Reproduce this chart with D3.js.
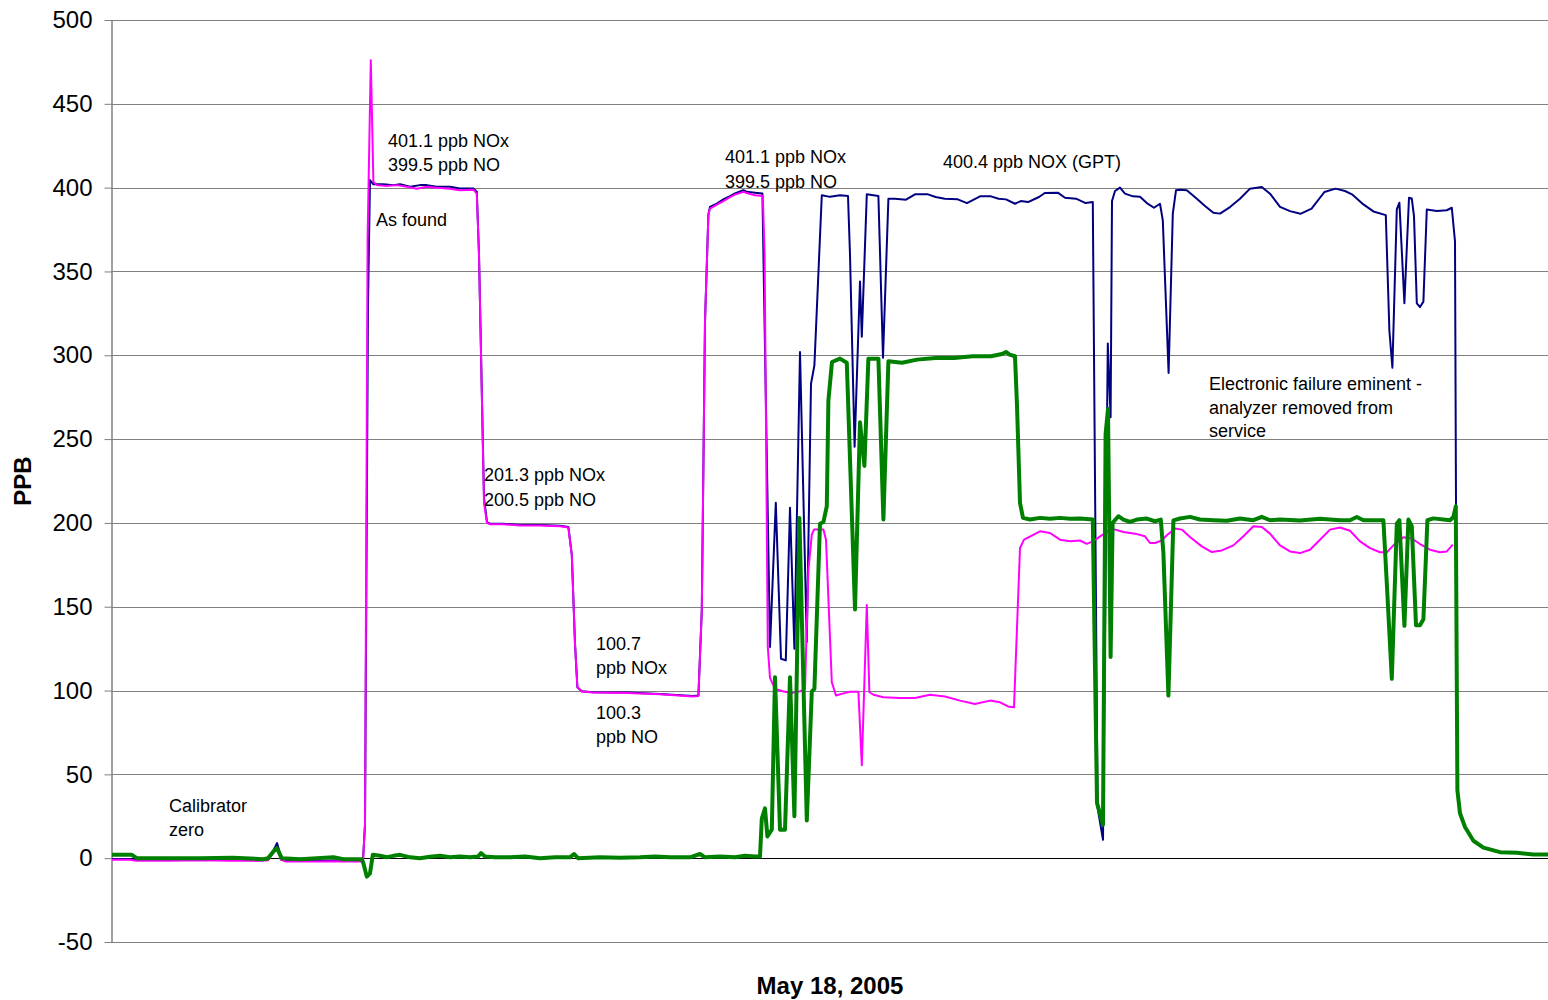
<!DOCTYPE html>
<html>
<head>
<meta charset="utf-8">
<script src="https://cdn.jsdelivr.net/npm/d3@7"></script>
<style>
  html, body { margin: 0; padding: 0; background: #ffffff; }
  svg { display: block; font-family: "Liberation Sans", Arial, sans-serif; }
</style>
</head>
<body>
<svg id="chart" width="1548" height="1000"></svg>
<script>
// ---------------- DATA ----------------
// x = minutes since start of record (May 18, 2005), y = PPB
const yTicks = [-50, 0, 50, 100, 150, 200, 250, 300, 350, 400, 450, 500];
const xDomain = [0, 718];
const yDomain = [-50, 500];

const noxSeries = [ // NOx (navy)
  [0,-0.5],[9,-0.5],[12,-1],[29,-1],[44,-0.8],[59,-1],[74,-1.2],[78,-1],[80.5,4],[82.5,9],[84.5,1],[87,-1.5],[104,-1.5],[114,-1.3],
  [125.5,-1],[126.5,20],[128,330],[129,404.5],[130.7,402],[135.7,402],[140.7,401.5],[144,402],[149,400.5],[154,401.5],[157.4,401.5],
  [162.4,400.5],[169,400.5],[174,399.5],[180.7,399.5],[182.4,397.5],[183.5,360],[186,215],[187.5,200.5],[189,199.5],[195.5,199.5],
  [204,198.8],[214,198.8],[224,198.3],[228.2,197.5],[229.9,181],[231.5,128],[232.7,102],[234.9,99.6],[240.5,99],[257.5,98.8],
  [274,98],[290.5,96.8],[293.2,97],[294.9,148],[296.5,320],[298.2,384],[299,388.5],[302.4,390.5],[305.7,393],[309,395],[311.5,396.5],
  [315.7,398.5],[317.4,397.5],[321.5,397],[325.2,396.5],[329,126],[331.9,212],[334.5,119],[336.9,118],[339,209],[341.2,125],[344,302],
  [347.4,129],[349.5,283],[351.2,294],[354.9,395.5],[359,394.5],[364,395.5],[368,395],[369,360],[371.3,245.5],[374,344],[374.9,311],
  [377.4,396],[383.2,395],[385.5,298.5],[388.2,393.4],[391.5,393.4],[397,392.8],[401.5,396],[408,396],[411.8,394.4],[416.4,393.4],
  [422.9,393],[427.5,390.8],[434,394.8],[439.5,394.8],[443.3,393.4],[447,393],[451.5,390.4],[454.4,392],[458,391.4],[463.5,394.4],
  [466.4,396.8],[472.9,397],[476.5,394],[482,393.4],[486.8,390.8],[490.4,391.4],[492.8,30],[495.5,11],[497.9,307],[499.3,263],
  [500,392],[501.5,398],[504,400],[506.5,396.4],[510.5,394.8],[514,394.5],[517.4,390.8],[521,388],[524,390.4],[525.4,380.5],
  [528.3,289.5],[530.4,384.5],[532,398.4],[534,398.8],[537.4,398.4],[542.4,393.4],[546.5,389],[550.7,385],[554,384.5],[559,388.4],
  [564,393.4],[569,399.4],[574.9,400.4],[579,396.4],[584,388.5],[589,386],[594.2,384.4],[599.8,387.5],[606.2,397.4],[611.8,399.4],
  [616.5,398],[620,396],[625.7,390],[630.7,385.8],[636.9,383.6],[638.7,314.5],[640.2,292.6],[642.4,387],[643.7,391],[646.2,331],
  [648.5,394],[649.9,393.5],[651,383],[652.4,331],[654,328.8],[655.7,332],[657.4,387],[662.4,386],[667.4,386.5],[669.9,388],
  [671.5,368],[672,210]
];

const noSeries = [ // NO (magenta)
  [0,-1],[9,-1],[12,-1.5],[29,-1.5],[44,-1.2],[59,-1.5],[74,-1.5],[78,-1.3],[80.5,3],[82.5,6],[84.5,-1],[87,-2],[104,-2],[114,-1.8],
  [125.5,-2],[126.5,20],[127.8,370],[129.4,476],[130.7,403.5],[132.4,401.5],[137.4,401],[142.4,401.5],[147.4,400.5],[152.4,399.4],
  [157.4,400.5],[162.4,400],[169,399.4],[174,398.4],[180.7,398.8],[182.4,396.4],[183.5,360],[186,212],[187.5,200],[189,199.2],
  [195.5,199.2],[204,198.5],[214,198.5],[224,198],[228.2,197.2],[229.9,181],[231.5,127.8],[232.7,102],[234.9,99.4],[240.5,98.8],
  [257.5,98.5],[274,97.8],[290.5,96.5],[293.2,96.8],[294.9,148],[296.5,320],[298.2,384],[299,387.5],[302.4,389.8],[305.7,392],
  [309,394.3],[311.5,395.8],[315.7,397.5],[317.4,396.8],[321.5,395.5],[325.4,395],[326.3,360],[327.9,126],[329,107.6],[331.5,101],
  [334.9,99.7],[339.9,98.4],[342,99.5],[344,99.5],[346.5,101],[348.2,172],[349.9,193],[351,196],[355.7,196],[357,190],[359.9,105],
  [362,97],[365.7,98.3],[369,99.3],[373.2,99.3],[374.9,55.5],[377.4,151],[378.7,99],[380.7,97.5],[385.7,96],[394,95.6],[401.5,95.5],
  [409,97.5],[416.5,96.5],[424,94],[431.5,92],[439,94],[444,93],[448,90.5],[451,90],[454,185],[456,190],[464,195],[469,194],
  [474,190],[479,189],[484,189.5],[487.4,187.5],[490.4,189],[499.9,196.6],[505.7,194.6],[511.5,193.6],[516.5,192],[519,188],
  [521.5,188],[524.9,189.5],[527.4,192.6],[531.5,196.6],[534.9,196],[539,191.6],[544.9,186],[549.9,182.6],[554.9,183.6],
  [560.7,186.6],[565.7,192],[570.7,198],[574.9,197.6],[579,193.6],[584,186.6],[589,183],[594,182],[599,184],[604,190],[609,196],
  [614,197.3],[619,195.3],[624,189],[629,185],[634,182.5],[637.4,182.5],[640.7,186.6],[645.7,191.5],[649.9,190.7],[654,187.4],
  [659,184],[664,182.5],[667.4,183],[670.4,187]
];

const no2Series = [ // NO2 (green)
  [0,2],[9.9,2],[12.4,0],[27.4,0],[44,0],[60.5,0.2],[75.7,-0.6],[78,0],[80.7,4],[82.4,6],[84.9,0],[94,-0.6],[102.4,0],[110.7,0.6],
  [115.7,-0.6],[124.9,-0.6],[125.7,-3],[127.4,-11],[129,-9],[130.4,2],[134,1.4],[137.4,0.6],[140.7,1.4],[144,2],[149,0.5],[154,0],
  [159,0.8],[164,1.5],[169,0.5],[174,1],[179,0.5],[183,1],[184.5,3],[186.5,1],[191.5,0.5],[199,0.5],[206.5,1],[214,0],[221.5,0.5],
  [229,0.5],[231,2.5],[233,0],[244,0.5],[254,0.3],[264,0.5],[271.5,1],[279,0.5],[289,0.5],[294,2.5],[296.5,0.5],[304,1],[311.5,0.5],
  [316.5,1.5],[321.5,1],[324,1],[324.9,23.6],[326.5,29.7],[327.7,13],[329.9,17],[331.5,108],[334,17],[336.5,17],[339,108],
  [341.2,25],[343.7,203],[347.4,22.5],[349.9,99.3],[351.2,101],[354,199.5],[355.7,200.5],[357.4,210],[358.2,273],[360,296],
  [364,298],[367.4,295.5],[371.5,148.4],[374,260],[376.2,234],[378.2,298],[383.2,298],[385.7,202],[388.2,296.5],[395,295.5],
  [402.5,297.4],[411.8,298.4],[421,298.4],[430.3,299.4],[439.5,299.4],[445,300.8],[447,302],[448.8,300.4],[451.5,299.4],
  [452.5,270],[454,212],[455.5,203],[459,202],[464,203],[469,202.5],[474,203],[479,202.5],[484,202.6],[490.4,202],[492.5,33],
  [495.5,20],[496.8,253],[498,268],[499.3,120],[500.3,200],[503.2,204],[505.7,202],[509,200.6],[512.4,202],[517.4,202.6],
  [521.5,201],[524.4,202],[525.7,182],[528.2,97],[530.7,201.5],[534,202.6],[539,203.6],[544,202],[550.7,201.6],[557.4,201.3],
  [564,202.6],[570.7,201.6],[574.9,203.6],[579,201.6],[584,202],[594,201.5],[604,202.5],[614,201.6],[619,201.6],[622.4,203.5],
  [625.7,201.6],[635.7,201.6],[637.4,164],[639.9,107],[642.4,199.5],[643.7,201.6],[646.2,138.6],[648.2,202],[649.9,198],
  [652,139],[654,139],[655.7,142.5],[657.7,201.6],[660.7,202.7],[669,201.6],[670.7,203.5],[671.9,209.9],[672.7,40.5],[674,26.8],
  [676.5,18.6],[680.7,10.4],[685.7,6.3],[694,3.6],[702.4,3.3],[710.7,2.2],[718,2.2]
];

// annotations: [minute, ppb, text]
const annotations = [
  [138, 424.5, "401.1 ppb NOx"],
  [138, 410.2, "399.5 ppb NO"],
  [132, 377, "As found"],
  [306.5, 414.5, "401.1 ppb NOx"],
  [306.5, 400, "399.5 ppb NO"],
  [415.5, 412, "400.4 ppb NOX (GPT)"],
  [186, 225, "201.3 ppb NOx"],
  [186, 210, "200.5 ppb NO"],
  [242, 124, "100.7"],
  [242, 110, "ppb NOx"],
  [242, 83, "100.3"],
  [242, 69, "ppb NO"],
  [28.5, 27.5, "Calibrator"],
  [28.5, 13, "zero"],
  [548.5, 279, "Electronic failure eminent -"],
  [548.5, 265, "analyzer removed from"],
  [548.5, 251, "service"]
];

const seriesDefs = [
  { data: noxSeries, color: "#000080", width: 2 },
  { data: noSeries,  color: "#FF00FF", width: 2 },
  { data: no2Series, color: "#008000", width: 4 }
];

// ---------------- CHART ----------------
const svg = d3.select("#chart");
const mLeft = 112, mRight = 1548, mTop = 20, mBottom = 942;

const x = d3.scaleLinear().domain(xDomain).range([mLeft, mRight]);
const y = d3.scaleLinear().domain(yDomain).range([mBottom, mTop]);

// gridlines
svg.append("g")
  .selectAll("line")
  .data(yTicks.filter(d => d !== 0))
  .join("line")
  .attr("x1", mLeft).attr("x2", mRight)
  .attr("y1", d => Math.round(y(d)) + 0.5)
  .attr("y2", d => Math.round(y(d)) + 0.5)
  .attr("stroke", "#808080").attr("stroke-width", 1);

// y axis
const yAxis = d3.axisLeft(y).tickValues(yTicks).tickSize(8).tickPadding(12).tickFormat(d => String(d));
const gy = svg.append("g").attr("transform", `translate(${mLeft + 0.5},0)`).call(yAxis);
gy.select(".domain").attr("stroke", "#808080").attr("d", `M-0.5,${mTop}V${mBottom}`).attr("stroke-width", 1.5);
gy.selectAll(".tick line").attr("stroke", "#808080");
gy.selectAll(".tick text")
  .attr("font-size", 24)
  .attr("fill", "#000")
  .attr("font-family", "Liberation Sans, Arial, sans-serif");

// x axis at zero
svg.append("line")
  .attr("x1", mLeft).attr("x2", mRight)
  .attr("y1", Math.round(y(0)) + 0.5).attr("y2", Math.round(y(0)) + 0.5)
  .attr("stroke", "#000").attr("stroke-width", 1);

// series lines
const line = d3.line().x(d => x(d[0])).y(d => y(d[1]));
svg.append("g")
  .selectAll("path")
  .data(seriesDefs)
  .join("path")
  .attr("d", d => line(d.data))
  .attr("fill", "none")
  .attr("stroke", d => d.color)
  .attr("stroke-width", d => d.width)
  .attr("stroke-linejoin", "round");

// annotations
svg.append("g")
  .selectAll("text")
  .data(annotations)
  .join("text")
  .attr("x", d => x(d[0]))
  .attr("y", d => y(d[1]))
  .attr("font-size", 18)
  .attr("fill", "#000")
  .text(d => d[2]);

// axis titles
svg.append("text")
  .attr("transform", `translate(31,${(mTop + mBottom) / 2}) rotate(-90)`)
  .attr("text-anchor", "middle")
  .attr("font-size", 24).attr("font-weight", "bold")
  .text("PPB");

svg.append("text")
  .attr("x", (mLeft + mRight) / 2)
  .attr("y", 994)
  .attr("text-anchor", "middle")
  .attr("font-size", 24).attr("font-weight", "bold")
  .text("May 18, 2005");
</script>
</body>
</html>
